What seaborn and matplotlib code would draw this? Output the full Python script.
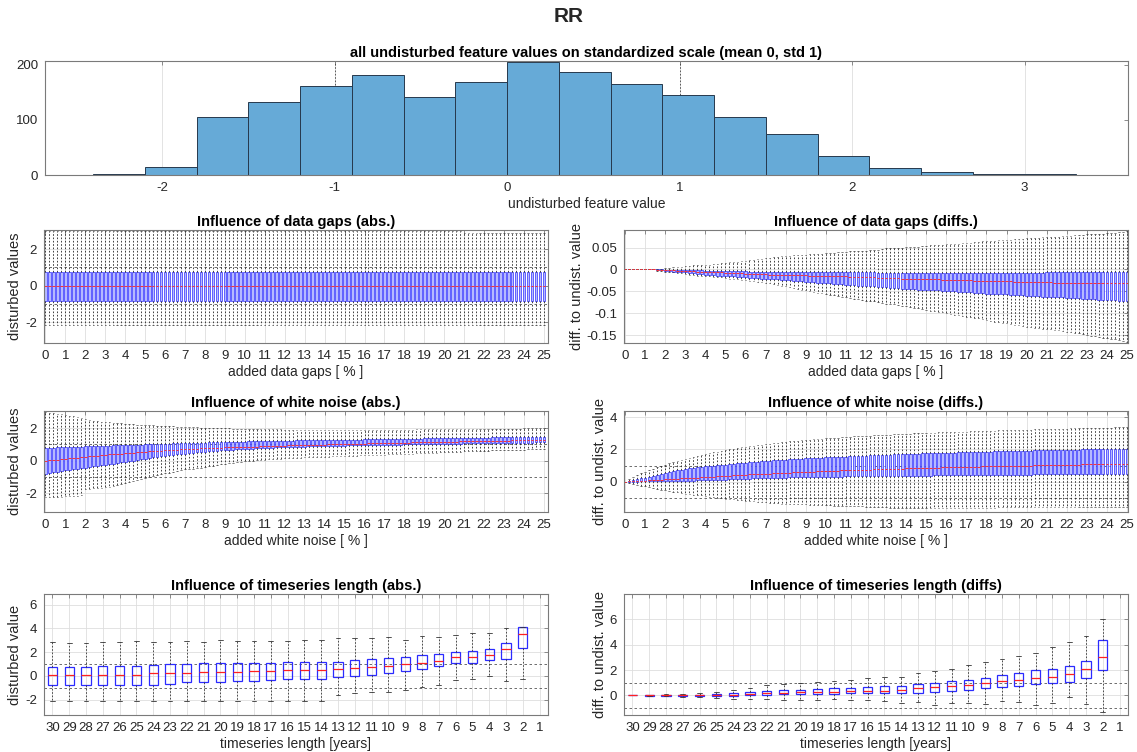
import numpy as np
import pandas as pd
import seaborn as sns
import matplotlib.pyplot as plt
from matplotlib.ticker import FormatStrFormatter

sns.set_theme(style="white")
plt.rcParams["font.family"] = ["Liberation Sans", "DejaVu Sans"]
plt.rcParams["axes.unicode_minus"] = False
plt.rcParams["axes.edgecolor"] = "#7a7a7a"
plt.rcParams["axes.linewidth"] = 0.8
plt.rcParams["xtick.color"] = "#7a7a7a"
plt.rcParams["ytick.color"] = "#7a7a7a"
plt.rcParams["xtick.labelcolor"] = "#262626"
plt.rcParams["ytick.labelcolor"] = "#262626"

# ---- histogram of undisturbed values ----
hist_edges = [-2.4, -2.1, -1.8, -1.5, -1.2, -0.9, -0.6, -0.3, 0.0, 0.3,
              0.6, 0.9, 1.2, 1.5, 1.8, 2.1, 2.4, 2.7, 3.0, 3.3]
hist_counts = [2, 15, 105, 133, 162, 182, 142, 168, 206, 187,
               166, 145, 106, 75, 35, 13, 5, 2, 2]

# ---- disturbance levels (percent), boxes every 0.2 % ----
pct = np.linspace(0, 25, 126)

# data gaps, absolute values
gaps_abs_lo = [-2.18] * 126
gaps_abs_q1 = [-0.82] * 126
gaps_abs_med = [0.0] * 126
gaps_abs_q3 = [0.76] * 126
gaps_abs_hi = [2.97] * 105 + [2.9] * 21

# data gaps, differences
gaps_dif_lo = [
    0, 0, 0, 0, 0, 0, 0, 0, -0.003, -0.004,
    -0.006, -0.006, -0.007, -0.008, -0.009, -0.011, -0.012, -0.013, -0.014, -0.015,
    -0.015, -0.016, -0.017, -0.018, -0.018, -0.019, -0.021, -0.022, -0.023, -0.024,
    -0.025, -0.026, -0.027, -0.028, -0.029, -0.030, -0.032, -0.034, -0.036, -0.037,
    -0.039, -0.041, -0.042, -0.044, -0.046, -0.047, -0.049, -0.051, -0.053, -0.054,
    -0.056, -0.058, -0.059, -0.061, -0.062, -0.064, -0.065, -0.067, -0.068, -0.070,
    -0.071, -0.072, -0.073, -0.075, -0.076, -0.078, -0.079, -0.080, -0.082, -0.083,
    -0.084, -0.086, -0.087, -0.089, -0.090, -0.093, -0.094, -0.095, -0.097, -0.098,
    -0.100, -0.101, -0.103, -0.104, -0.106, -0.108, -0.109, -0.110, -0.112, -0.114,
    -0.116, -0.117, -0.119, -0.120, -0.122, -0.123, -0.125, -0.126, -0.128, -0.129,
    -0.131, -0.132, -0.133, -0.134, -0.135, -0.136, -0.137, -0.138, -0.139, -0.141,
    -0.142, -0.143, -0.145, -0.146, -0.148, -0.149, -0.151, -0.153, -0.154, -0.156,
    -0.157, -0.159, -0.160, -0.162, -0.163, -0.165]
gaps_dif_q1 = [
    0, 0, 0, 0, 0, 0, 0, 0, -0.002, -0.002,
    -0.004, -0.004, -0.005, -0.005, -0.006, -0.007, -0.008, -0.009, -0.010, -0.011,
    -0.012, -0.012, -0.013, -0.014, -0.014, -0.015, -0.016, -0.016, -0.017, -0.018,
    -0.018, -0.019, -0.020, -0.020, -0.021, -0.021, -0.022, -0.023, -0.023, -0.024,
    -0.025, -0.025, -0.026, -0.027, -0.027, -0.028, -0.029, -0.029, -0.030, -0.031,
    -0.032, -0.032, -0.033, -0.034, -0.034, -0.035, -0.036, -0.036, -0.037, -0.038,
    -0.038, -0.039, -0.039, -0.040, -0.041, -0.041, -0.042, -0.042, -0.043, -0.044,
    -0.044, -0.045, -0.045, -0.046, -0.046, -0.047, -0.047, -0.048, -0.048, -0.049,
    -0.049, -0.050, -0.050, -0.051, -0.051, -0.052, -0.052, -0.053, -0.053, -0.054,
    -0.055, -0.055, -0.056, -0.056, -0.057, -0.057, -0.058, -0.058, -0.059, -0.059,
    -0.060, -0.060, -0.061, -0.061, -0.062, -0.062, -0.063, -0.063, -0.064, -0.064,
    -0.065, -0.065, -0.066, -0.066, -0.067, -0.067, -0.068, -0.068, -0.069, -0.069,
    -0.070, -0.070, -0.070, -0.071, -0.071, -0.071]
gaps_dif_med = [
    0, 0, 0, 0, 0, 0, 0, 0, -0.001, -0.001,
    -0.002, -0.002, -0.002, -0.003, -0.003, -0.004, -0.004, -0.004, -0.005, -0.005,
    -0.006, -0.006, -0.007, -0.007, -0.007, -0.008, -0.008, -0.009, -0.009, -0.009,
    -0.010, -0.010, -0.010, -0.011, -0.011, -0.011, -0.012, -0.012, -0.012, -0.012,
    -0.012, -0.013, -0.013, -0.013, -0.013, -0.013, -0.014, -0.014, -0.014, -0.015,
    -0.015, -0.015, -0.015, -0.016, -0.016, -0.016, -0.017, -0.017, -0.017, -0.018,
    -0.018, -0.018, -0.018, -0.019, -0.019, -0.019, -0.020, -0.020, -0.020, -0.021,
    -0.021, -0.021, -0.022, -0.022, -0.022, -0.022, -0.023, -0.023, -0.023, -0.024,
    -0.024, -0.024, -0.024, -0.025, -0.025, -0.025, -0.025, -0.026, -0.026, -0.026,
    -0.026, -0.026, -0.027, -0.027, -0.027, -0.027, -0.027, -0.028, -0.028, -0.028,
    -0.028, -0.028, -0.029, -0.029, -0.029, -0.029, -0.029, -0.030, -0.030, -0.030,
    -0.030, -0.030, -0.030, -0.031, -0.031, -0.031, -0.031, -0.031, -0.031, -0.032,
    -0.032, -0.032, -0.032, -0.032, -0.032, -0.032]
gaps_dif_q3 = [
    0, 0, 0, 0, 0, 0, 0, 0, 0, 0,
    -0.001, -0.001, -0.001, -0.001, -0.001, -0.002, -0.002, -0.002, -0.002, -0.002,
    -0.003, -0.003, -0.003, -0.003, -0.003, -0.004, -0.004, -0.004, -0.004, -0.004,
    -0.004, -0.005, -0.005, -0.005, -0.005, -0.005, -0.005, -0.005, -0.006, -0.006,
    -0.006, -0.006, -0.006, -0.006, -0.006, -0.006, -0.007, -0.007, -0.007, -0.007,
    -0.007, -0.007, -0.007, -0.007, -0.007, -0.007, -0.007, -0.007, -0.007, -0.007,
    -0.007, -0.007, -0.007, -0.008, -0.008, -0.008, -0.008, -0.008, -0.008, -0.008,
    -0.008, -0.008, -0.008, -0.008, -0.008, -0.008, -0.008, -0.008, -0.008, -0.008,
    -0.008, -0.008, -0.008, -0.008, -0.008, -0.008, -0.008, -0.008, -0.008, -0.008,
    -0.008, -0.008, -0.008, -0.008, -0.008, -0.008, -0.008, -0.008, -0.008, -0.008,
    -0.008, -0.008, -0.008, -0.008, -0.008, -0.007, -0.007, -0.007, -0.007, -0.007,
    -0.007, -0.007, -0.007, -0.007, -0.007, -0.006, -0.006, -0.006, -0.006, -0.006,
    -0.006, -0.006, -0.006, -0.006, -0.006, -0.006]
gaps_dif_hi = [
    0, 0, 0, 0, 0, 0, 0, 0, 0.001, 0.002,
    0.004, 0.004, 0.005, 0.005, 0.006, 0.007, 0.008, 0.009, 0.009, 0.010,
    0.011, 0.011, 0.012, 0.013, 0.014, 0.015, 0.016, 0.017, 0.018, 0.019,
    0.020, 0.021, 0.022, 0.023, 0.024, 0.026, 0.027, 0.028, 0.029, 0.030,
    0.031, 0.031, 0.032, 0.033, 0.034, 0.034, 0.035, 0.035, 0.036, 0.036,
    0.037, 0.038, 0.038, 0.039, 0.040, 0.040, 0.041, 0.042, 0.042, 0.043,
    0.043, 0.044, 0.045, 0.045, 0.046, 0.048, 0.048, 0.049, 0.049, 0.050,
    0.051, 0.051, 0.052, 0.052, 0.053, 0.054, 0.055, 0.055, 0.056, 0.056,
    0.057, 0.058, 0.058, 0.059, 0.060, 0.061, 0.061, 0.062, 0.063, 0.064,
    0.065, 0.065, 0.066, 0.067, 0.067, 0.068, 0.068, 0.069, 0.070, 0.070,
    0.071, 0.071, 0.072, 0.072, 0.073, 0.073, 0.074, 0.075, 0.075, 0.076,
    0.077, 0.077, 0.078, 0.078, 0.079, 0.080, 0.081, 0.081, 0.082, 0.082,
    0.083, 0.084, 0.084, 0.085, 0.086, 0.087]

# white noise, absolute values
noise_abs_lo = [
    -2.24, -2.23, -2.22, -2.21, -2.20, -2.19, -2.18, -2.16, -2.14, -2.12,
    -1.75, -1.73, -1.70, -1.68, -1.66, -1.63, -1.60, -1.55, -1.49, -1.43,
    -1.36, -1.30, -1.24, -1.18, -1.12, -1.05, -1.00, -0.95, -0.89, -0.83,
    -0.77, -0.73, -0.68, -0.64, -0.59, -0.54, -0.51, -0.48, -0.45, -0.42,
    -0.38, -0.35, -0.31, -0.27, -0.23, -0.19, -0.16, -0.12, -0.09, -0.06,
    -0.03, -0.01, 0.01, 0.03, 0.05, 0.07, 0.09, 0.10, 0.12, 0.13,
    0.15, 0.16, 0.17, 0.18, 0.19, 0.20, 0.21, 0.22, 0.23, 0.24,
    0.25, 0.25, 0.26, 0.27, 0.27, 0.28, 0.29, 0.30, 0.31, 0.32,
    0.33, 0.34, 0.35, 0.35, 0.36, 0.37, 0.38, 0.39, 0.40, 0.41,
    0.42, 0.43, 0.44, 0.45, 0.46, 0.47, 0.48, 0.49, 0.50, 0.51,
    0.52, 0.53, 0.54, 0.55, 0.56, 0.57, 0.58, 0.58, 0.59, 0.60,
    0.61, 0.62, 0.63, 0.63, 0.64, 0.65, 0.66, 0.66, 0.67, 0.67,
    0.68, 0.69, 0.70, 0.70, 0.71, 0.72]
noise_abs_q1 = [
    -0.80, -0.76, -0.72, -0.68, -0.64, -0.60, -0.56, -0.53, -0.49, -0.46,
    -0.42, -0.39, -0.35, -0.32, -0.28, -0.25, -0.21, -0.18, -0.14, -0.11,
    -0.07, -0.03, 0.01, 0.05, 0.08, 0.12, 0.16, 0.20, 0.23, 0.27,
    0.30, 0.33, 0.36, 0.38, 0.41, 0.44, 0.46, 0.49, 0.51, 0.54,
    0.56, 0.58, 0.60, 0.62, 0.63, 0.65, 0.66, 0.68, 0.69, 0.71,
    0.72, 0.73, 0.74, 0.76, 0.77, 0.78, 0.79, 0.80, 0.81, 0.82,
    0.83, 0.84, 0.85, 0.85, 0.86, 0.87, 0.88, 0.88, 0.89, 0.89,
    0.90, 0.91, 0.91, 0.92, 0.92, 0.93, 0.94, 0.94, 0.95, 0.95,
    0.96, 0.96, 0.97, 0.97, 0.97, 0.98, 0.98, 0.99, 0.99, 0.99,
    1.00, 1.00, 1.01, 1.01, 1.01, 1.02, 1.02, 1.03, 1.03, 1.03,
    1.04, 1.04, 1.05, 1.05, 1.05, 1.06, 1.06, 1.07, 1.07, 1.07,
    1.08, 1.08, 1.08, 1.09, 1.09, 1.09, 1.10, 1.10, 1.10, 1.11,
    1.11, 1.11, 1.11, 1.12, 1.12, 1.12]
noise_abs_med = [
    0.00, 0.02, 0.05, 0.07, 0.10, 0.12, 0.14, 0.17, 0.19, 0.22,
    0.24, 0.26, 0.29, 0.31, 0.34, 0.36, 0.38, 0.40, 0.42, 0.44,
    0.46, 0.48, 0.50, 0.51, 0.53, 0.55, 0.57, 0.58, 0.60, 0.62,
    0.63, 0.64, 0.66, 0.67, 0.69, 0.70, 0.71, 0.72, 0.74, 0.75,
    0.76, 0.77, 0.78, 0.79, 0.80, 0.81, 0.82, 0.82, 0.83, 0.84,
    0.85, 0.86, 0.87, 0.87, 0.88, 0.89, 0.90, 0.91, 0.91, 0.92,
    0.93, 0.94, 0.94, 0.95, 0.95, 0.96, 0.97, 0.97, 0.98, 0.98,
    0.99, 1.00, 1.00, 1.01, 1.01, 1.02, 1.03, 1.03, 1.04, 1.04,
    1.05, 1.06, 1.06, 1.07, 1.07, 1.08, 1.09, 1.09, 1.10, 1.10,
    1.11, 1.11, 1.12, 1.12, 1.13, 1.13, 1.14, 1.14, 1.15, 1.15,
    1.16, 1.16, 1.17, 1.17, 1.18, 1.18, 1.19, 1.19, 1.20, 1.20,
    1.21, 1.21, 1.22, 1.22, 1.22, 1.23, 1.23, 1.24, 1.24, 1.24,
    1.25, 1.25, 1.26, 1.26, 1.26, 1.27]
noise_abs_q3 = [
    0.78, 0.79, 0.80, 0.81, 0.82, 0.83, 0.84, 0.85, 0.86, 0.87,
    0.88, 0.89, 0.90, 0.90, 0.91, 0.92, 0.93, 0.94, 0.94, 0.95,
    0.96, 0.97, 0.98, 0.98, 0.99, 1.00, 1.01, 1.02, 1.02, 1.03,
    1.04, 1.05, 1.06, 1.06, 1.07, 1.08, 1.09, 1.09, 1.10, 1.10,
    1.11, 1.12, 1.12, 1.13, 1.13, 1.14, 1.15, 1.15, 1.16, 1.16,
    1.17, 1.18, 1.18, 1.19, 1.19, 1.20, 1.20, 1.21, 1.21, 1.22,
    1.22, 1.23, 1.23, 1.24, 1.24, 1.25, 1.25, 1.26, 1.26, 1.26,
    1.27, 1.27, 1.28, 1.28, 1.28, 1.29, 1.29, 1.30, 1.30, 1.30,
    1.31, 1.31, 1.32, 1.32, 1.32, 1.33, 1.33, 1.34, 1.34, 1.34,
    1.35, 1.35, 1.36, 1.36, 1.36, 1.37, 1.37, 1.38, 1.38, 1.38,
    1.39, 1.39, 1.40, 1.40, 1.40, 1.41, 1.41, 1.41, 1.42, 1.42,
    1.42, 1.42, 1.43, 1.43, 1.43, 1.44, 1.44, 1.44, 1.44, 1.45,
    1.45, 1.45, 1.46, 1.46, 1.46, 1.47]
noise_abs_hi = [
    2.97, 2.95, 2.92, 2.88, 2.84, 2.80, 2.76, 2.72, 2.67, 2.62,
    2.55, 2.50, 2.46, 2.43, 2.40, 2.37, 2.35, 2.33, 2.31, 2.29,
    2.26, 2.24, 2.23, 2.21, 2.20, 2.18, 2.17, 2.16, 2.15, 2.13,
    2.12, 2.11, 2.10, 2.09, 2.08, 2.07, 2.06, 2.05, 2.04, 2.03,
    2.02, 2.01, 2.00, 2.00, 1.99, 1.98, 1.98, 1.97, 1.96, 1.96,
    1.95, 1.95, 1.94, 1.94, 1.93, 1.93, 1.93, 1.92, 1.92, 1.92,
    1.91, 1.91, 1.91, 1.90, 1.90, 1.90, 1.90, 1.89, 1.89, 1.89,
    1.88, 1.88, 1.88, 1.88, 1.87, 1.87, 1.87, 1.87, 1.87, 1.87,
    1.88, 1.88, 1.88, 1.89, 1.89, 1.89, 1.89, 1.90, 1.90, 1.90,
    1.91, 1.91, 1.91, 1.92, 1.92, 1.92, 1.93, 1.93, 1.93, 1.94,
    1.94, 1.94, 1.94, 1.95, 1.95, 1.95, 1.95, 1.95, 1.96, 1.96,
    1.96, 1.96, 1.96, 1.96, 1.97, 1.97, 1.97, 1.97, 1.97, 1.97,
    1.98, 1.98, 1.98, 1.98, 1.98, 1.98]

# white noise, differences
noise_dif_lo = [
    0.00, -0.08, -0.14, -0.20, -0.25, -0.30, -0.35, -0.40, -0.45, -0.50,
    -0.55, -0.60, -0.64, -0.68, -0.71, -0.75, -0.78, -0.81, -0.84, -0.87,
    -0.90, -0.94, -0.97, -1.00, -1.03, -1.07, -1.09, -1.11, -1.14, -1.16,
    -1.19, -1.21, -1.24, -1.26, -1.28, -1.30, -1.32, -1.34, -1.35, -1.37,
    -1.38, -1.39, -1.40, -1.41, -1.42, -1.43, -1.44, -1.45, -1.46, -1.47,
    -1.48, -1.49, -1.50, -1.50, -1.51, -1.52, -1.53, -1.54, -1.54, -1.55,
    -1.56, -1.57, -1.58, -1.59, -1.60, -1.61, -1.62, -1.63, -1.64, -1.65,
    -1.65, -1.66, -1.66, -1.67, -1.67, -1.67, -1.67, -1.66, -1.66, -1.66,
    -1.65, -1.65, -1.65, -1.64, -1.64, -1.64, -1.63, -1.63, -1.63, -1.62,
    -1.62, -1.62, -1.62, -1.61, -1.61, -1.61, -1.61, -1.61, -1.60, -1.60,
    -1.60, -1.60, -1.60, -1.60, -1.60, -1.60, -1.60, -1.60, -1.60, -1.60,
    -1.60, -1.60, -1.60, -1.60, -1.60, -1.60, -1.60, -1.60, -1.60, -1.60,
    -1.60, -1.60, -1.60, -1.60, -1.60, -1.60]
noise_dif_q1 = [
    0.00, -0.01, -0.01, 0.00, 0.01, 0.01, 0.01, 0.02, 0.02, 0.02,
    0.03, 0.03, 0.04, 0.04, 0.05, 0.05, 0.06, 0.06, 0.07, 0.07,
    0.08, 0.08, 0.09, 0.10, 0.11, 0.12, 0.13, 0.14, 0.15, 0.16,
    0.17, 0.18, 0.19, 0.20, 0.21, 0.22, 0.23, 0.23, 0.24, 0.25,
    0.25, 0.26, 0.26, 0.27, 0.27, 0.28, 0.28, 0.29, 0.29, 0.30,
    0.30, 0.30, 0.31, 0.31, 0.31, 0.32, 0.32, 0.32, 0.33, 0.33,
    0.33, 0.34, 0.34, 0.34, 0.34, 0.35, 0.35, 0.35, 0.35, 0.36,
    0.36, 0.36, 0.36, 0.37, 0.37, 0.37, 0.37, 0.38, 0.38, 0.38,
    0.38, 0.39, 0.39, 0.39, 0.39, 0.40, 0.40, 0.40, 0.40, 0.41,
    0.41, 0.41, 0.41, 0.42, 0.42, 0.42, 0.42, 0.42, 0.43, 0.43,
    0.43, 0.43, 0.44, 0.44, 0.44, 0.44, 0.44, 0.45, 0.45, 0.45,
    0.45, 0.46, 0.46, 0.46, 0.46, 0.46, 0.47, 0.47, 0.47, 0.47,
    0.47, 0.48, 0.48, 0.48, 0.48, 0.48]
noise_dif_med = [
    0.00, 0.01, 0.02, 0.03, 0.05, 0.06, 0.07, 0.09, 0.10, 0.11,
    0.13, 0.14, 0.16, 0.17, 0.19, 0.20, 0.22, 0.23, 0.25, 0.26,
    0.28, 0.29, 0.31, 0.32, 0.34, 0.35, 0.37, 0.38, 0.40, 0.41,
    0.43, 0.44, 0.45, 0.47, 0.48, 0.49, 0.50, 0.52, 0.53, 0.54,
    0.55, 0.56, 0.57, 0.58, 0.59, 0.60, 0.61, 0.62, 0.63, 0.64,
    0.65, 0.66, 0.67, 0.68, 0.69, 0.70, 0.71, 0.71, 0.72, 0.73,
    0.74, 0.75, 0.76, 0.76, 0.77, 0.78, 0.79, 0.79, 0.80, 0.81,
    0.82, 0.82, 0.83, 0.84, 0.84, 0.85, 0.86, 0.86, 0.87, 0.88,
    0.88, 0.89, 0.90, 0.90, 0.91, 0.91, 0.92, 0.93, 0.93, 0.94,
    0.94, 0.95, 0.96, 0.96, 0.97, 0.97, 0.98, 0.98, 0.99, 0.99,
    1.00, 1.00, 1.01, 1.01, 1.02, 1.02, 1.03, 1.03, 1.04, 1.04,
    1.05, 1.05, 1.06, 1.06, 1.07, 1.07, 1.07, 1.08, 1.08, 1.09,
    1.09, 1.10, 1.10, 1.10, 1.11, 1.11]
noise_dif_q3 = [
    0.00, 0.05, 0.10, 0.15, 0.20, 0.25, 0.31, 0.37, 0.43, 0.49,
    0.55, 0.60, 0.64, 0.69, 0.74, 0.78, 0.82, 0.85, 0.89, 0.92,
    0.95, 0.97, 0.99, 1.01, 1.03, 1.05, 1.08, 1.10, 1.13, 1.15,
    1.18, 1.20, 1.22, 1.24, 1.26, 1.28, 1.30, 1.32, 1.34, 1.35,
    1.37, 1.38, 1.40, 1.41, 1.42, 1.44, 1.45, 1.46, 1.48, 1.49,
    1.50, 1.51, 1.53, 1.54, 1.55, 1.56, 1.57, 1.58, 1.60, 1.61,
    1.62, 1.63, 1.64, 1.65, 1.66, 1.67, 1.68, 1.69, 1.70, 1.71,
    1.72, 1.73, 1.74, 1.74, 1.75, 1.76, 1.77, 1.78, 1.78, 1.79,
    1.80, 1.81, 1.81, 1.82, 1.83, 1.83, 1.84, 1.85, 1.85, 1.86,
    1.87, 1.87, 1.88, 1.89, 1.89, 1.90, 1.90, 1.91, 1.92, 1.92,
    1.93, 1.93, 1.94, 1.94, 1.95, 1.95, 1.96, 1.96, 1.97, 1.97,
    1.98, 1.98, 1.99, 1.99, 2.00, 2.00, 2.01, 2.01, 2.02, 2.02,
    2.03, 2.03, 2.04, 2.04, 2.05, 2.05]
noise_dif_hi = [
    0.00, 0.15, 0.28, 0.40, 0.51, 0.61, 0.71, 0.80, 0.89, 0.97,
    1.05, 1.13, 1.21, 1.28, 1.35, 1.42, 1.48, 1.54, 1.60, 1.66,
    1.72, 1.77, 1.82, 1.87, 1.92, 1.97, 2.01, 2.05, 2.09, 2.13,
    2.17, 2.20, 2.24, 2.27, 2.30, 2.33, 2.36, 2.39, 2.42, 2.45,
    2.47, 2.50, 2.52, 2.54, 2.57, 2.59, 2.61, 2.63, 2.65, 2.67,
    2.69, 2.71, 2.72, 2.74, 2.76, 2.77, 2.79, 2.81, 2.82, 2.84,
    2.85, 2.86, 2.88, 2.89, 2.90, 2.92, 2.93, 2.94, 2.95, 2.96,
    2.97, 2.98, 3.00, 3.01, 3.02, 3.03, 3.04, 3.05, 3.06, 3.07,
    3.08, 3.09, 3.10, 3.11, 3.12, 3.12, 3.13, 3.14, 3.15, 3.16,
    3.17, 3.17, 3.18, 3.19, 3.20, 3.20, 3.21, 3.22, 3.22, 3.23,
    3.24, 3.24, 3.25, 3.26, 3.26, 3.27, 3.28, 3.28, 3.29, 3.29,
    3.30, 3.31, 3.31, 3.32, 3.33, 3.33, 3.34, 3.35, 3.35, 3.36,
    3.37, 3.37, 3.38, 3.39, 3.39, 3.40]

# timeseries length (years 30 .. 1, no box for 1 year)
years = ["30", "29", "28", "27", "26", "25", "24", "23", "22", "21",
         "20", "19", "18", "17", "16", "15", "14", "13", "12", "11",
         "10", "9", "8", "7", "6", "5", "4", "3", "2", "1"]
len_abs_lo = [-2.15, -2.15, -2.15, -2.15, -2.15, -2.15, -2.15, -2.15, -2.15, -2.15,
              -2.15, -2.15, -2.15, -2.15, -2.15, -2.15, -2.15, -1.6, -1.45, -1.35,
              -1.35, -1.2, -0.9, -0.8, -0.35, -0.3, -0.05, -0.45, -0.3]
len_abs_q1 = [-0.8, -0.8, -0.8, -0.8, -0.8, -0.8, -0.75, -0.7, -0.55, -0.55,
              -0.5, -0.45, -0.4, -0.35, -0.3, -0.28, -0.25, -0.1, 0.0, 0.08,
              0.28, 0.45, 0.55, 0.8, 1.05, 1.08, 1.35, 1.45, 2.35]
len_abs_med = [0.07, 0.08, 0.03, 0.05, 0.08, 0.1, 0.2, 0.28, 0.28, 0.3,
               0.35, 0.35, 0.45, 0.45, 0.5, 0.5, 0.48, 0.55, 0.65, 0.72,
               0.85, 1.0, 1.1, 1.25, 1.55, 1.55, 1.75, 2.25, 3.5]
len_abs_q3 = [0.76, 0.78, 0.78, 0.8, 0.82, 0.85, 0.88, 1.0, 1.02, 1.05,
              1.08, 1.1, 1.1, 1.12, 1.17, 1.18, 1.18, 1.2, 1.35, 1.4,
              1.52, 1.58, 1.75, 1.85, 2.05, 2.1, 2.3, 2.8, 4.15]
len_abs_hi = [2.82, 2.8, 2.8, 2.85, 2.85, 2.9, 2.88, 2.88, 2.9, 2.88,
              3.0, 2.95, 2.9, 2.95, 2.95, 3.05, 3.05, 3.15, 3.15, 3.15,
              3.25, 3.05, 3.4, 3.3, 3.45, 3.6, 3.6, 4.0, 4.15]

len_dif_lo = [0, -0.05, -0.08, -0.1, -0.15, -0.2, -0.25, -0.25, -0.3, -0.35,
              -0.35, -0.35, -0.3, -0.35, -0.35, -0.45, -0.6, -0.55, -0.75, -0.6,
              -0.6, -0.65, -0.45, -0.55, -0.75, -0.6, -0.15, -0.7, -1.3]
len_dif_q1 = [0, -0.02, -0.03, -0.03, -0.03, -0.04, -0.02, 0.0, 0.05, 0.08,
              0.1, 0.12, 0.13, 0.15, 0.17, 0.18, 0.18, 0.22, 0.3, 0.35,
              0.45, 0.55, 0.65, 0.75, 0.9, 0.95, 1.05, 1.35, 2.0]
len_dif_med = [0, 0, 0, 0, 0.01, 0.02, 0.05, 0.1, 0.2, 0.22,
               0.25, 0.27, 0.3, 0.32, 0.35, 0.38, 0.4, 0.55, 0.65, 0.72,
               0.85, 1.0, 1.12, 1.25, 1.4, 1.48, 1.65, 2.1, 3.05]
len_dif_q3 = [0, 0.02, 0.03, 0.04, 0.06, 0.08, 0.15, 0.25, 0.35, 0.4,
              0.45, 0.5, 0.55, 0.6, 0.65, 0.7, 0.7, 0.9, 1.0, 1.1,
              1.25, 1.4, 1.6, 1.75, 2.0, 2.05, 2.35, 2.75, 4.35]
len_dif_hi = [0, 0.05, 0.08, 0.1, 0.15, 0.25, 0.4, 0.55, 0.8, 0.9,
              1.0, 1.05, 1.15, 1.25, 1.35, 1.45, 1.45, 1.8, 1.95, 2.05,
              2.4, 2.65, 2.85, 3.1, 3.35, 3.8, 4.2, 4.7, 6.0]


def five_point_table(pos, lo, q1, med, q3, hi):
    # five values per box, so that quartiles and min/max reproduce the box
    rows = []
    for p, a, b, c, d, e in zip(pos, lo, q1, med, q3, hi):
        for v in (a, b, c, d, e):
            rows.append((p, v))
    return pd.DataFrame(rows, columns=["pos", "val"])


W, H = 1137, 752
fig = plt.figure(figsize=(W / 100, H / 100), dpi=100)


def box(l, t, r, b):
    return [l / W, 1 - b / H, (r - l) / W, (b - t) / H]


GRID = "#dedede"
TXT = "#262626"


def style_axes(ax, title, xlabel, ylabel):
    ax.set_title(title, fontsize=10.5, fontweight="bold", color="black", pad=3)
    ax.set_xlabel(xlabel, fontsize=10, color=TXT, labelpad=2)
    ax.set_ylabel(ylabel, fontsize=10.5, color=TXT, labelpad=2)
    ax.tick_params(direction="in", length=3, width=0.6, labelsize=9.5,
                   top=True, right=True, pad=5)
    ax.set_axisbelow(True)
    ax.grid(True, color=GRID, linewidth=0.6)
    ax.yaxis.set_major_formatter(FormatStrFormatter("%g"))
    for s in ax.spines.values():
        s.set_visible(True)


dense_kw = dict(
    native_scale=True, whis=(0, 100), width=0.7, fliersize=0,
    boxprops=dict(facecolor="#b6b9ff", edgecolor="#3030ff", linewidth=0.5),
    whiskerprops=dict(color="#222222", linestyle=(0, (2, 2)), linewidth=0.6),
    capprops=dict(color="#222222", linewidth=0.4),
    medianprops=dict(color="#ff3030", linewidth=0.7),
)
sparse_kw = dict(
    whis=(0, 100), width=0.55, fliersize=0,
    boxprops=dict(facecolor="none", edgecolor="#2b2bff", linewidth=0.9),
    whiskerprops=dict(color="#333333", linestyle=(0, (2, 2)), linewidth=0.6),
    capprops=dict(color="#333333", linewidth=0.6),
    medianprops=dict(color="#ff2020", linewidth=0.9),
)

# ---- top histogram ----
ax0 = fig.add_axes(box(45, 61, 1128, 175))
centers = (np.array(hist_edges[:-1]) + np.array(hist_edges[1:])) / 2
sns.histplot(x=centers, weights=hist_counts, bins=hist_edges, color="#66aad7",
             alpha=1, edgecolor="#26394d", linewidth=0.7, ax=ax0)
for v in (-1, 1):
    ax0.axvline(v, color="#444444", linestyle=(0, (2, 2)), linewidth=0.6, zorder=0.8)
ax0.set_xlim(-2.68, 3.6)
ax0.set_ylim(0, 207)
ax0.set_xticks([-2, -1, 0, 1, 2, 3])
ax0.set_yticks([0, 100, 200])
style_axes(ax0, "all undisturbed feature values on standardized scale (mean 0, std 1)",
           "undisturbed feature value", "")
ax0.grid(False)
ax0.xaxis.grid(True, color=GRID, linewidth=0.6)

left_col = (44, 548)
right_col = (624, 1128)
row2 = (230, 343)
row3 = (411, 512)
row4 = (594, 715)

panels = [
    (left_col, row2, five_point_table(pct, gaps_abs_lo, gaps_abs_q1, gaps_abs_med, gaps_abs_q3, gaps_abs_hi),
     "Influence of data gaps (abs.)", "added data gaps [ % ]", "disturbed values",
     (-0.07, 25.2), (-3.15, 3.05), [-2, 0, 2]),
    (right_col, row2, five_point_table(pct, gaps_dif_lo, gaps_dif_q1, gaps_dif_med, gaps_dif_q3, gaps_dif_hi),
     "Influence of data gaps (diffs.)", "added data gaps [ % ]", "diff. to undist. value",
     (-0.05, 25.05), (-0.168, 0.09), [-0.15, -0.1, -0.05, 0, 0.05]),
    (left_col, row3, five_point_table(pct, noise_abs_lo, noise_abs_q1, noise_abs_med, noise_abs_q3, noise_abs_hi),
     "Influence of white noise (abs.)", "added white noise [ % ]", "disturbed values",
     (-0.07, 25.2), (-3.15, 3.05), [-2, 0, 2]),
    (right_col, row3, five_point_table(pct, noise_dif_lo, noise_dif_q1, noise_dif_med, noise_dif_q3, noise_dif_hi),
     "Influence of white noise (diffs.)", "added white noise [ % ]", "diff. to undist. value",
     (-0.05, 25.05), (-1.9, 4.4), [0, 2, 4]),
]

for col, row, df, title, xl, yl, xlim, ylim, yt in panels:
    ax = fig.add_axes(box(col[0], row[0], col[1], row[1]))
    for v in (-1, 1):
        ax.axhline(v, color="#555555", linestyle=(0, (3, 3)), linewidth=0.6, zorder=1)
    sns.boxplot(data=df, x="pos", y="val", ax=ax, **dense_kw)
    ax.set_xlim(*xlim)
    ax.set_ylim(*ylim)
    ax.set_xticks(range(0, 26))
    ax.set_yticks(yt)
    style_axes(ax, title, xl, yl)

bottom = [
    (left_col, five_point_table(years, len_abs_lo, len_abs_q1, len_abs_med, len_abs_q3, len_abs_hi),
     "Influence of timeseries length (abs.)", "disturbed value", (-3.3, 6.9), [-2, 0, 2, 4, 6]),
    (right_col, five_point_table(years, len_dif_lo, len_dif_q1, len_dif_med, len_dif_q3, len_dif_hi),
     "Influence of timeseries length (diffs)", "diff. to undist. value", (-1.55, 8.0), [0, 2, 4, 6]),
]
for col, df, title, yl, ylim, yt in bottom:
    ax = fig.add_axes(box(col[0], row4[0], col[1], row4[1]))
    sns.boxplot(data=df, x="pos", y="val", order=years, ax=ax, **sparse_kw)
    for v in (-1, 1):
        ax.axhline(v, color="#555555", linestyle=(0, (3, 3)), linewidth=0.6, zorder=1.5)
    ax.set_xlim(-0.5, 29.5)
    ax.set_ylim(*ylim)
    ax.set_yticks(yt)
    style_axes(ax, title, "timeseries length [years]", yl)

fig.text(0.5, 1 - 16 / H, "RR", ha="center", va="center", fontsize=15, fontweight="bold")

fig.savefig("out.png", dpi=100)
